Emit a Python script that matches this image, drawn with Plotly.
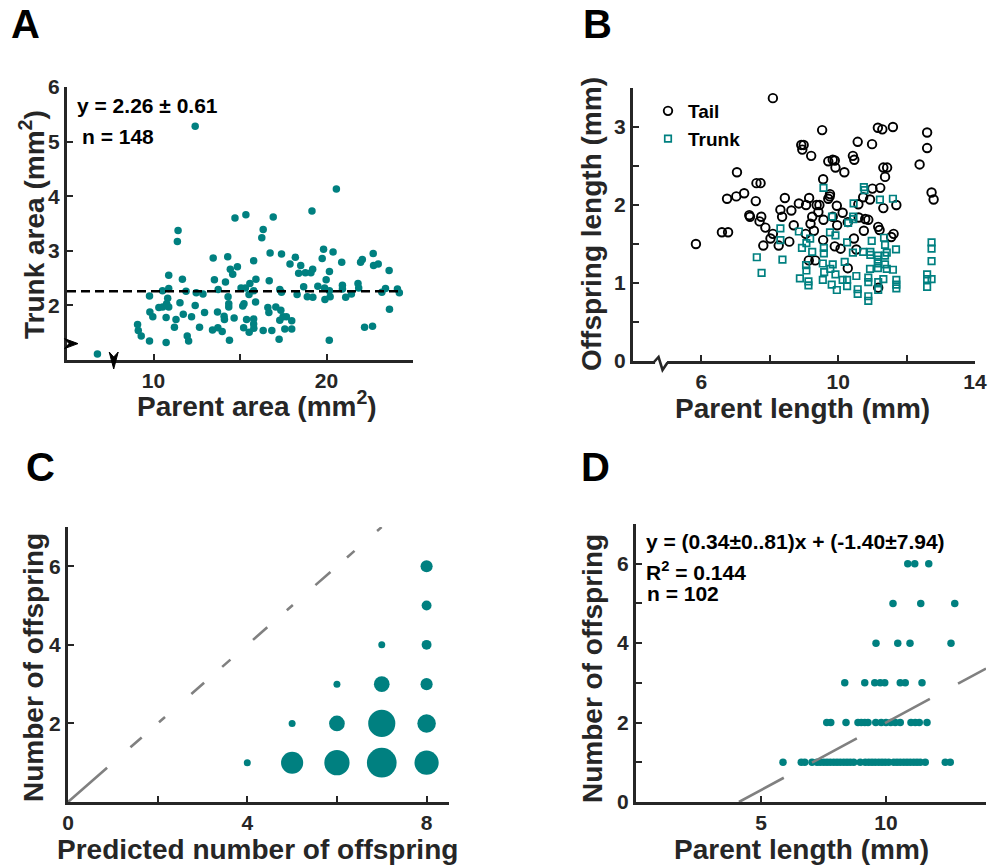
import plotly.graph_objects as go

W, H = 989, 865
FONT = "Liberation Sans"
TEAL = "#008080"
INK = "#262626"
GREY = "#808080"

# ---------------- Panel A: trunk area vs parent area ----------------
parent_area = [
    12.41, 14.71, 11.42, 11.38, 13.45, 14.29, 14.44, 14.58, 14.85, 10.88, 11.67, 13.52, 14.16,
    10.88, 10.52, 11.88, 12.47, 12.86, 13.74, 14.31, 9.77, 10.82, 11.53, 10.76, 12.41, 10.31,
    10.53, 10.88, 14.35, 14.35, 9.79, 9.96, 10.73, 11.72, 12.20, 12.95, 13.70, 14.08, 14.10,
    14.66, 11.30, 9.08, 9.12, 9.29, 11.21, 12.66, 13.41, 13.72, 13.97, 11.95, 12.03, 9.77,
    10.73, 14.39, 6.76,
    20.57, 19.16, 15.34, 16.92, 16.34, 16.26, 19.83, 20.38, 19.75, 20.88, 16.74, 17.40, 18.20,
    17.89, 18.51, 18.39, 18.78, 19.10, 19.20, 20.17, 19.98, 21.97, 22.07, 22.70, 22.72, 22.99,
    23.62, 15.79, 16.69, 15.92, 15.57, 15.06, 15.31, 15.79, 15.52, 17.30, 17.40, 18.30, 18.68,
    18.89, 19.21, 19.50, 19.89, 20.21, 19.91, 20.17, 20.92, 20.92, 21.11, 21.44, 21.82, 21.86,
    23.20, 23.41, 24.10, 24.21, 23.64, 22.20, 22.66, 20.16, 15.23, 15.16, 15.90, 16.61, 17.07,
    16.67, 17.36, 15.38, 15.79, 15.79, 15.80, 15.21, 15.53, 16.34, 16.84, 17.30, 17.49, 17.68,
    17.99, 17.59, 17.99, 17.26,
]
trunk_area = [
    5.28, 3.60, 3.37, 3.17, 2.87, 2.89, 2.66, 2.57, 2.71, 2.55, 2.48, 2.47, 2.43,
    2.31, 2.27, 2.26, 2.23, 2.21, 2.29, 2.16, 2.17, 2.13, 2.05, 2.03, 2.00, 1.96,
    1.97, 1.97, 2.03, 1.97, 1.88, 1.79, 1.78, 1.84, 1.79, 1.87, 1.88, 1.80, 1.74,
    1.77, 1.74, 1.65, 1.54, 1.44, 1.60, 1.60, 1.55, 1.59, 1.52, 1.44, 1.35, 1.35,
    1.32, 1.36, 1.11,
    4.13, 3.73, 3.66, 3.62, 3.39, 3.24, 3.03, 2.98, 2.86, 2.79, 2.96, 2.94, 2.88,
    2.76, 2.73, 2.59, 2.60, 2.60, 2.66, 2.62, 2.47, 2.79, 2.84, 2.95, 2.73, 2.76,
    2.64, 2.82, 2.45, 2.48, 2.40, 2.32, 2.32, 2.27, 2.20, 2.29, 2.24, 2.20, 2.34,
    2.16, 2.15, 2.35, 2.32, 2.16, 2.11, 2.27, 2.37, 2.30, 2.15, 2.21, 2.40, 2.32,
    2.24, 2.31, 2.30, 2.23, 1.93, 1.60, 1.62, 1.36, 2.03, 1.99, 2.06, 1.96, 1.97,
    1.87, 1.91, 1.74, 1.75, 1.66, 1.58, 1.59, 1.51, 1.54, 1.54, 1.73, 1.79, 1.79,
    1.72, 1.57, 1.57, 1.38,
]
trunk_mean = 2.26
trunk_sd = 0.61
n_area = 148

# ---------------- Panel B: offspring length vs parent length ----------------
tail_parent_len = [
    8.09, 9.53, 8.92, 8.99, 8.95, 9.21, 9.71, 7.04, 9.56, 7.61, 7.73, 7.25, 7.02, 6.75, 7.59,
    8.44, 9.15, 8.85, 9.06, 9.37, 9.45, 9.75, 8.31, 8.63, 9.42, 8.36, 7.40, 7.42, 7.75, 7.70,
    9.24, 9.19, 8.70, 9.57, 7.87, 8.09, 8.02, 9.05, 9.29, 7.81, 8.26, 8.57, 6.60, 6.78, 5.84,
    9.14, 9.33,
    11.16, 11.29, 11.60, 12.60, 12.60, 10.57, 10.99, 12.38, 9.84, 9.90, 9.92, 10.18, 10.43,
    10.47, 11.32, 11.43, 11.37, 11.00, 11.23, 10.73, 10.93, 10.59, 11.32, 11.70, 12.73, 12.79,
    9.76, 9.71, 9.96, 10.13, 9.84, 9.97, 10.28, 10.60, 10.79, 10.88, 10.75, 11.17, 11.21,
    11.55, 11.62, 10.46, 9.56, 9.90, 10.07, 10.53, 10.28, 11.17,
]
tail_len = [
    3.37, 2.96, 2.77, 2.77, 2.71, 2.63, 2.56, 2.42, 2.33, 2.28, 2.28, 2.15, 2.11, 2.08, 2.05,
    2.09, 2.09, 2.02, 2.00, 2.00, 2.00, 2.11, 1.94, 1.93, 1.91, 1.85, 1.87, 1.85, 1.85, 1.79,
    1.85, 1.76, 1.74, 1.81, 1.71, 1.63, 1.57, 1.63, 1.67, 1.48, 1.48, 1.53, 1.65, 1.65, 1.50,
    1.29, 1.29,
    2.99, 2.97, 3.00, 2.93, 2.73, 2.81, 2.78, 2.52, 2.58, 2.57, 2.48, 2.42, 2.63,
    2.58, 2.48, 2.48, 2.36, 2.21, 2.22, 2.10, 2.07, 2.01, 1.96, 2.00, 2.16, 2.07,
    2.14, 2.08, 1.99, 1.90, 1.85, 1.74, 1.78, 1.84, 1.82, 1.81, 1.67, 1.72, 1.68,
    1.59, 1.63, 1.57, 1.55, 1.47, 1.44, 1.43, 1.19, 0.94,
]
trunk_parent_len = [
    9.57, 8.31, 8.85, 8.31, 9.18, 9.07, 8.94, 9.24, 9.58, 9.58, 7.62, 8.37, 9.06, 9.07, 9.55,
    9.59, 7.76, 8.88, 9.13, 9.13, 9.55,
    10.75, 10.77, 10.45, 11.22, 11.60, 9.82, 10.29, 10.44, 10.44, 9.76, 9.92, 10.26, 10.98,
    11.34, 11.37, 11.69, 12.73, 12.73, 12.73, 10.43, 10.73, 10.94, 10.94, 11.16, 11.16, 11.16,
    11.16, 11.42, 11.37, 11.37, 11.42, 11.60, 9.84, 9.77, 9.92, 10.19, 10.93, 10.53, 10.13,
    10.26, 10.26, 9.81, 9.96, 10.88, 10.88, 10.57, 10.57, 10.88, 10.88, 11.17, 11.17, 11.32,
    11.70, 11.70, 11.70, 12.60, 12.60, 12.73, 12.60,
]
trunk_len = [
    2.22, 1.70, 1.66, 1.55, 1.57, 1.51, 1.45, 1.40, 1.45, 1.38, 1.33, 1.30, 1.23, 1.16, 1.25,
    1.14, 1.13, 1.06, 1.02, 0.97, 1.04,
    2.23, 2.19, 2.02, 2.07, 2.08, 1.85, 1.77, 1.85, 1.82, 1.65, 1.61, 1.52, 1.54,
    1.58, 1.49, 1.43, 1.52, 1.44, 1.28, 1.39, 1.40, 1.40, 1.36, 1.35, 1.30, 1.25,
    1.19, 1.39, 1.35, 1.24, 1.18, 1.17, 1.24, 1.18, 1.11, 1.27, 1.18, 1.09, 1.04,
    1.04, 0.96, 0.98, 0.91, 1.07, 1.01, 0.92, 0.86, 0.83, 0.77, 1.01, 0.91, 1.05,
    1.04, 0.98, 0.93, 1.11, 1.05, 1.05, 0.95,
]

# ---------------- Panel C: observed vs predicted offspring number ----------------
pred_offspring = [4, 5, 6, 7, 8, 5, 6, 7, 8, 6, 7, 8, 7, 8, 8, 8]
obs_offspring = [1, 1, 1, 1, 1, 2, 2, 2, 2, 3, 3, 3, 4, 4, 5, 6]
pair_counts = [1, 10, 13, 18, 12, 1, 5, 15, 7, 1, 5, 3, 1, 2, 2, 3]

# ---------------- Panel D: offspring number vs parent length ----------------
d_parent_len = [
    10.87, 11.15, 11.71,
    10.28, 11.39, 12.75,
    9.60, 10.47, 10.96, 12.60,
    8.35, 9.15, 9.55, 9.77, 9.95, 10.57, 10.77, 11.44,
    7.63, 7.79, 8.40, 8.88, 9.01, 9.15, 9.28, 9.59, 9.81, 10.00, 10.19, 10.37, 10.57, 11.00,
    11.17, 11.33, 11.64,
    5.88, 6.61, 6.75, 7.04, 7.24, 7.37, 7.51, 7.64, 7.77, 7.91, 8.04, 8.17, 8.31, 8.44, 8.57,
    8.71, 8.97, 9.17, 9.31, 9.44, 9.57, 9.71, 9.84, 9.97, 10.11, 10.31, 10.44, 10.57, 10.71,
    10.84, 10.97, 11.11, 11.24, 11.37, 11.57, 12.37, 12.57, 12.80,
]
d_offspring = [6] * 3 + [5] * 3 + [4] * 4 + [3] * 8 + [2] * 17 + [1] * 37
fit_slope = 0.34
fit_intercept = -1.40
fit_eq_text = "y = (0.34±0..81)x + (-1.40±7.94)"
fit_r2 = 0.144
n_fit = 102

# ---------------- axis ranges and tick values ----------------
A_X, A_Y = [5, 25], [1, 6]
B_X, B_Y = [4, 14], [0, 3.5]
C_X, C_Y = [0, 8.5], [0, 7]
D_X, D_Y = [0, 14], [0, 7]

A_XTICKS, A_XMINOR = [10, 20], [15, 25]
A_YTICKS = [2, 3, 4, 5, 6]
B_XTICKS, B_XMINOR = [6, 10, 14], [8, 12]
B_YTICKS, B_YMINOR = [0, 1, 2, 3], [0.5, 1.5, 2.5, 3.5]
C_XTICKS, C_XMINOR = [0, 4, 8], [2, 6]
C_YTICKS = [2, 4, 6]
D_XTICKS = [5, 10]
D_YTICKS, D_YMINOR = [0, 2, 4, 6], [1, 3, 5]

# panel boxes in pixels: (left, right, top, bottom)
BOX_A = (67, 413, 87, 360)
BOX_B = (633, 975, 88, 361)
BOX_C = (68, 449, 527, 802)
BOX_D = (636, 986, 524, 802)


def xdom(box):
    return [box[0] / W, box[1] / W]


def ydom(box):
    return [1 - box[3] / H, 1 - box[2] / H]


def px(x):
    return x / W


def py(y):
    return 1 - y / H


def paper_x(v, box, rng):
    d = xdom(box)
    return d[0] + (v - rng[0]) / (rng[1] - rng[0]) * (d[1] - d[0])


def paper_y(v, box, rng):
    d = ydom(box)
    return d[0] + (v - rng[0]) / (rng[1] - rng[0]) * (d[1] - d[0])


fig = go.Figure()

# Panel A
fig.add_trace(go.Scatter(
    x=parent_area, y=trunk_area, mode="markers", xaxis="x", yaxis="y",
    marker=dict(size=7.5, color=TEAL, line=dict(width=0)), showlegend=False))
fig.add_trace(go.Scatter(
    x=[A_X[0], max(parent_area)], y=[trunk_mean, trunk_mean], mode="lines",
    xaxis="x", yaxis="y", line=dict(color="black", width=2.6, dash="9px,5px"),
    showlegend=False))

# Panel B
fig.add_trace(go.Scatter(
    x=tail_parent_len, y=tail_len, mode="markers", name="Tail", xaxis="x2", yaxis="y2",
    marker=dict(symbol="circle-open", size=8.5, color="black", line=dict(width=1.9, color="black"))))
fig.add_trace(go.Scatter(
    x=trunk_parent_len, y=trunk_len, mode="markers", name="Trunk", xaxis="x2", yaxis="y2",
    marker=dict(symbol="square-open", size=6.5, color=TEAL, line=dict(width=1.7, color=TEAL))))

# Panel C
fig.add_trace(go.Scatter(
    x=[C_Y[0], C_Y[1]], y=[C_Y[0], C_Y[1]], mode="lines", xaxis="x3", yaxis="y3",
    line=dict(color=GREY, width=2.6,
              dash="52px,31px,15px,23px,8px,35px,17px,24px,11px,30px,19px,26px,8px,30px,20px,22px,10px,30px,6px"),
    showlegend=False))
fig.add_trace(go.Scatter(
    x=pred_offspring, y=obs_offspring, mode="markers", xaxis="x3", yaxis="y3",
    marker=dict(size=pair_counts, sizemode="area", sizeref=1 / 24.5, color=TEAL,
                line=dict(width=0), opacity=1),
    showlegend=False))

# Panel D
fig.add_trace(go.Scatter(
    x=d_parent_len, y=d_offspring, mode="markers", xaxis="x4", yaxis="y4",
    marker=dict(size=7.5, color=TEAL, line=dict(width=0)), showlegend=False))
x_fit0 = -fit_intercept / fit_slope
x_fit1 = D_X[1]
fig.add_trace(go.Scatter(
    x=[x_fit0, x_fit1], y=[fit_slope * x_fit0 + fit_intercept, fit_slope * x_fit1 + fit_intercept],
    mode="lines", xaxis="x4", yaxis="y4",
    line=dict(color=GREY, width=2.6, dash="51px,32px"), showlegend=False))

tick_font = dict(family=FONT, size=21, color=INK, weight="bold")
axis_common = dict(
    showline=True, linecolor=INK, linewidth=3, ticks="inside", ticklen=6, tickwidth=2,
    tickcolor=INK, showgrid=False, zeroline=False, tickfont=tick_font, fixedrange=True,
    tickmode="array",
)


def axis(box, rng, vals, minor_vals=None, horizontal=True, anchor=None):
    d = dict(axis_common, range=rng, anchor=anchor, tickvals=vals,
             ticktext=[str(v) for v in vals])
    d["domain"] = xdom(box) if horizontal else ydom(box)
    if minor_vals:
        d["minor"] = dict(tickmode="array", tickvals=minor_vals, ticks="inside",
                          ticklen=6, tickwidth=2, tickcolor=INK, showgrid=False)
    return d


fig.update_layout(
    width=W, height=H, margin=dict(l=0, r=0, t=0, b=0, pad=0, autoexpand=False),
    paper_bgcolor="white", plot_bgcolor="white",
    font=dict(family=FONT, color=INK),
    xaxis=axis(BOX_A, A_X, A_XTICKS, A_XMINOR, True, "y"),
    yaxis=axis(BOX_A, A_Y, A_YTICKS, None, False, "x"),
    xaxis2=axis(BOX_B, B_X, B_XTICKS, B_XMINOR, True, "y2"),
    yaxis2=axis(BOX_B, B_Y, B_YTICKS, B_YMINOR, False, "x2"),
    xaxis3=axis(BOX_C, C_X, C_XTICKS, C_XMINOR, True, "y3"),
    yaxis3=axis(BOX_C, C_Y, C_YTICKS, None, False, "x3"),
    xaxis4=axis(BOX_D, D_X, D_XTICKS, None, True, "y4"),
    yaxis4=axis(BOX_D, D_Y, D_YTICKS, D_YMINOR, False, "x4"),
    legend=dict(x=px(648), y=py(92), xanchor="left", yanchor="top",
                font=dict(family=FONT, size=19, color="black", weight="bold"),
                bgcolor="rgba(0,0,0,0)", itemwidth=30, tracegroupgap=0),
)

annotations = []


def label(text, x, y, size, anchor="center", angle=0, color=INK):
    annotations.append(dict(
        text=text, x=px(x), y=py(y), xref="paper", yref="paper", showarrow=False,
        xanchor=anchor, yanchor="middle", textangle=angle,
        font=dict(family=FONT, size=size, color=color, weight="bold")))


# panel letters
label("A", 25, 24, 40, color="black")
label("B", 597, 24, 40, color="black")
label("C", 40, 467, 40, color="black")
label("D", 595, 467, 40, color="black")

# axis titles
label("Parent area (mm<sup>2</sup>)", 257, 404, 28)
label("Trunk area (mm<sup>2</sup>)", 32, 225, 28, angle=-90)
label("Parent length (mm)", 802, 408, 28)
label("Offspring length (mm)", 592, 224, 28, angle=-90)
label("Predicted number of offspring", 257, 849, 28)
label("Number of offspring", 33, 668, 28, angle=-90)
label("Parent length (mm)", 801, 849, 28)
label("Number of offspring", 592, 669, 28, angle=-90)

# statistics text
label(f"y = {trunk_mean:.2f} ± {trunk_sd:.2f}", 75, 105, 21, anchor="left", color="black")
label(f"n = {n_area}", 80, 137, 21, anchor="left", color="black")
label(fit_eq_text, 644, 541, 21, anchor="left", color="black")
label(f"R<sup>2</sup> = {fit_r2:.3f}", 644, 571, 21, anchor="left", color="black")
label(f"n = {n_fit}", 645, 593, 21, anchor="left", color="black")

fig.update_layout(annotations=annotations)

# axis-break marks, placed in paper space so they are not clipped by the plot area
break_right = "M -2.5,5 L 11,0 L -2.5,-5 L 2,0 Z"
break_down = "M 4.5,8 L 0,-9 L -4.5,8 L 0,3 Z"
shapes = [
    dict(type="path", xref="paper", yref="paper", xsizemode="pixel", ysizemode="pixel",
         xanchor=xdom(BOX_A)[0], yanchor=paper_y(1.3, BOX_A, A_Y), path=break_right,
         fillcolor="black", line=dict(color="black", width=1), layer="above"),
    dict(type="path", xref="paper", yref="paper", xsizemode="pixel", ysizemode="pixel",
         xanchor=paper_x(7.7, BOX_A, A_X), yanchor=ydom(BOX_A)[0], path=break_down,
         fillcolor="black", line=dict(color="black", width=1), layer="above"),
    dict(type="rect", xref="paper", yref="paper", xsizemode="pixel", ysizemode="pixel",
         xanchor=paper_x(4.82, BOX_B, B_X), yanchor=ydom(BOX_B)[0], x0=-6, x1=6, y0=-4, y1=1,
         fillcolor="white", line=dict(width=0), layer="above"),
    dict(type="path", xref="paper", yref="paper", xsizemode="pixel", ysizemode="pixel",
         xanchor=paper_x(4.82, BOX_B, B_X), yanchor=ydom(BOX_B)[0],
         path="M -7.5,-1.5 L -2.5,4 L 1.5,-9 L 6.5,-1.5",
         line=dict(color=INK, width=2.6), layer="above"),
]
fig.update_layout(shapes=shapes)

fig.write_html("out.html")
